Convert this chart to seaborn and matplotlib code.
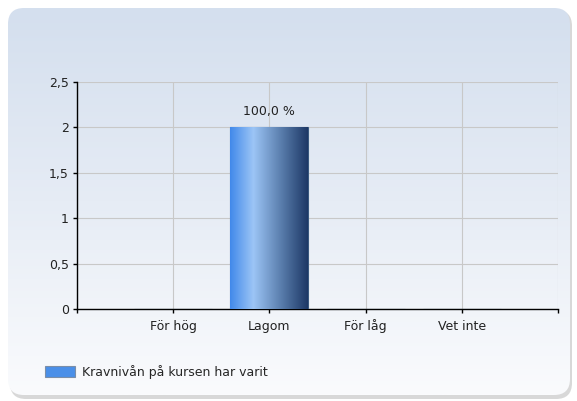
import numpy as np
import pandas as pd
import matplotlib
matplotlib.use("Agg")
import matplotlib.pyplot as plt
from matplotlib.patches import FancyBboxPatch, Patch
from matplotlib.colors import LinearSegmentedColormap
import seaborn as sns

# data
kategorier = ["För hög", "Lagom", "För låg", "Vet inte"]
antal = [0, 2, 0, 0]
procent_etiketter = ["", "100,0 %", "", ""]
y_ticks = [0, 0.5, 1, 1.5, 2, 2.5]
y_tick_labels = ["0", "0,5", "1", "1,5", "2", "2,5"]
serie_namn = "Kravnivån på kursen har varit"

sns.set_theme(style="white")
plt.rcParams["font.family"] = ["DejaVu Sans"]

fig = plt.figure(figsize=(5.77, 4.01), dpi=100)
fig.patch.set_facecolor("white")

# panel with gradient and rounded corners
bg = fig.add_axes([0, 0, 1, 1])
bg.set_xlim(0, 577)
bg.set_ylim(401, 0)
bg.axis("off")
skugga = FancyBboxPatch((10, 10), 562, 389, boxstyle="round,pad=0,rounding_size=16",
                        facecolor="#d8d8d8", edgecolor="none", zorder=0)
bg.add_patch(skugga)
panel = FancyBboxPatch((8, 8), 562, 387, boxstyle="round,pad=0,rounding_size=16",
                       facecolor="none", edgecolor="none", zorder=1)
bg.add_patch(panel)
grad_bg = LinearSegmentedColormap.from_list("bg", ["#d4dfee", "#e6ecf5", "#fafbfd"])
img = bg.imshow(np.linspace(0, 1, 256).reshape(-1, 1), cmap=grad_bg, aspect="auto",
                extent=(8, 570, 395, 8), zorder=1)
img.set_clip_path(panel)

ax = fig.add_axes([77 / 577, 1 - 309 / 401, (558 - 77) / 577, (309 - 82) / 401])
ax.patch.set_alpha(0)

df = pd.DataFrame({"kategori": kategorier, "antal": antal})
sns.barplot(data=df, x="kategori", y="antal", ax=ax, width=0.81,
            color="#4a8fe8", edgecolor="#3a5a80", linewidth=0.8, zorder=3)

# horizontal gradient on bars
grad_bar = LinearSegmentedColormap.from_list(
    "bar", [(0, "#4189ea"), (0.3, "#9cc5f6"), (0.65, "#5b7fae"), (1, "#1d3866")])
for bar in ax.patches:
    if bar.get_height() > 0:
        x0, w, h = bar.get_x(), bar.get_width(), bar.get_height()
        gi = ax.imshow(np.linspace(0, 1, 256).reshape(1, -1), cmap=grad_bar, aspect="auto",
                       extent=(x0, x0 + w, 0, h), zorder=3.5)
        gi.set_clip_path(bar)

for i, (v, txt) in enumerate(zip(antal, procent_etiketter)):
    if txt:
        ax.text(i, v + 0.1, txt, ha="center", va="bottom", fontsize=9, color="#222222")

ax.set_xlim(-1, 4)
ax.set_ylim(0, 2.5)
ax.set_xticks(range(-1, 5))
ax.set_xticklabels([""] + kategorier + [""], fontsize=9, color="#222222")
ax.set_yticks(y_ticks)
ax.set_yticklabels(y_tick_labels, fontsize=9, color="#222222")
ax.set_xlabel("")
ax.set_ylabel("")
ax.grid(True, color="#c8c8c8", linewidth=0.8, zorder=0)
ax.set_axisbelow(True)
for s in ["top", "right"]:
    ax.spines[s].set_visible(False)
for s in ["left", "bottom"]:
    ax.spines[s].set_color("black")
    ax.spines[s].set_linewidth(1)
ax.tick_params(axis="both", length=3, width=1, color="black", direction="out",
               bottom=True, left=True)
ax.tick_params(axis="y", pad=3)
ax.tick_params(axis="x", pad=12)
for lab in ax.get_xticklabels():
    lab.set_verticalalignment("baseline")

ax.set_xlim(-1, 4)
ax.set_ylim(0, 2.5)

handle = Patch(facecolor="#4a8fe8", edgecolor="#7a8ea8", linewidth=0.8, label=serie_namn)
fig.legend(handles=[handle], loc="center left", bbox_to_anchor=(0.059, 1 - 372 / 401),
           frameon=False, fontsize=9, handlelength=2.4, handleheight=0.9, handletextpad=0.55)

fig.savefig("out.png", dpi=100)
